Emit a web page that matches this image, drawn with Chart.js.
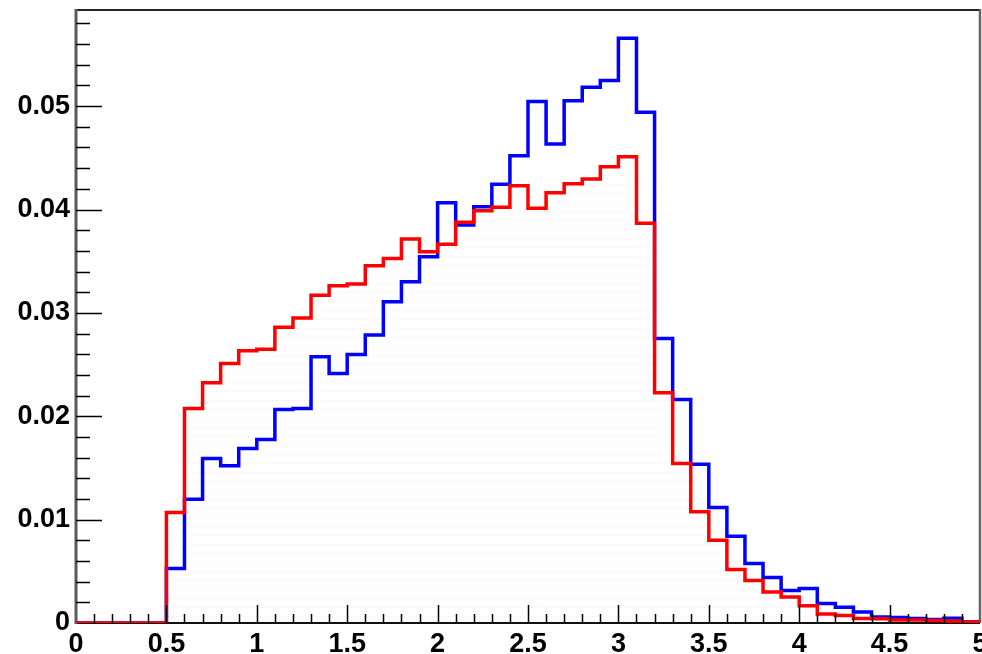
<!DOCTYPE html>
<html>
<head>
<meta charset="utf-8">
<title>Histogram comparison</title>
<script src="https://cdn.jsdelivr.net/npm/chart.js@4.4.1/dist/chart.umd.min.js"></script>
<style>
    html, body { margin: 0; padding: 0; background: #ffffff; }
    #hist-canvas { display: block; }
</style>
</head>
<body>
<canvas id="hist-canvas" width="982" height="654"></canvas>
<script>
// Bin edges (50 bins of width 0.1 between 0 and 5)
var binEdges = [
    0.0, 0.1, 0.2, 0.3, 0.4, 0.5, 0.6, 0.7, 0.8, 0.9,
    1.0, 1.1, 1.2, 1.3, 1.4, 1.5, 1.6, 1.7, 1.8, 1.9,
    2.0, 2.1, 2.2, 2.3, 2.4, 2.5, 2.6, 2.7, 2.8, 2.9,
    3.0, 3.1, 3.2, 3.3, 3.4, 3.5, 3.6, 3.7, 3.8, 3.9,
    4.0, 4.1, 4.2, 4.3, 4.4, 4.5, 4.6, 4.7, 4.8, 4.9,
    5.0
];

// Bin contents, one entry per bin
var blueValues = [
    0, 0, 0, 0, 0, 0.00527, 0.01198, 0.01591, 0.01520, 0.01688,
    0.01775, 0.02066, 0.02075, 0.02575, 0.02414, 0.02598, 0.02785, 0.03107, 0.03301, 0.03543,
    0.04066, 0.03850, 0.04027, 0.04244, 0.04521, 0.05044, 0.04634, 0.05053, 0.05183, 0.05247,
    0.05657, 0.04941, 0.02753, 0.02163, 0.01536, 0.01117, 0.00839, 0.00575, 0.00440, 0.00314,
    0.00333, 0.00188, 0.00152, 0.00106, 0.00058, 0.00052, 0.00043, 0.00033, 0.00045, 0.00010
];

var redValues = [
    0, 0, 0, 0, 0, 0.01069, 0.02075, 0.02323, 0.02511, 0.02633,
    0.02647, 0.02860, 0.02950, 0.03171, 0.03262, 0.03279, 0.03456, 0.03527, 0.03715, 0.03592,
    0.03663, 0.03876, 0.03988, 0.04021, 0.04230, 0.04011, 0.04163, 0.04250, 0.04295, 0.04414,
    0.04511, 0.03866, 0.02227, 0.01543, 0.01075, 0.00800, 0.00517, 0.00410, 0.00300, 0.00252,
    0.00168, 0.00086, 0.00072, 0.00043, 0.00040, 0.00030, 0.00030, 0.00025, 0.00020, 0.00010
];

var xTickValues = [0, 0.5, 1, 1.5, 2, 2.5, 3, 3.5, 4, 4.5, 5];
var yTickValues = [0, 0.01, 0.02, 0.03, 0.04, 0.05];

var X_MIN = 0;
var X_MAX = 5;
var Y_MAX = 0.0593;
var LABEL_FONT = { family: '"Liberation Sans", Arial, sans-serif', size: 27, weight: 'bold' };

/**
 * Turn bin contents into step points (one per low edge, plus the last edge)
 */
function toStepPoints(values) {
    var pts = [];
    for (var i = 0; i < values.length; i++) {
        pts.push({ x: binEdges[i], y: values[i] });
    }
    pts.push({ x: binEdges[values.length], y: values[values.length - 1] });
    return pts;
}

/**
 * Faint dotted fill used under the red histogram
 */
function makeDotPattern(ctx) {
    var c = document.createElement('canvas');
    c.width = 4;
    c.height = 9;
    var g = c.getContext('2d');
    g.fillStyle = 'rgba(225, 170, 195, 0.3)';
    g.fillRect(0, 4, 1, 1);
    return ctx.createPattern(c, 'repeat');
}

/**
 * Frame and inward-pointing tick marks
 */
var frameTicks = {
    id: 'frameTicks',
    beforeDatasetsDraw: function(chart) {
        var a = chart.chartArea;
        var ctx = chart.ctx;
        ctx.save();
        ctx.lineCap = 'butt';
        // top
        ctx.strokeStyle = '#222';
        ctx.lineWidth = 2;
        ctx.beginPath();
        ctx.moveTo(a.left, a.top);
        ctx.lineTo(a.right, a.top);
        ctx.stroke();
        // right
        ctx.strokeStyle = '#666';
        ctx.lineWidth = 2.5;
        ctx.beginPath();
        ctx.moveTo(a.right, a.top - 1);
        ctx.lineTo(a.right, a.bottom);
        ctx.stroke();
        // bottom
        ctx.strokeStyle = '#111';
        ctx.lineWidth = 2;
        ctx.beginPath();
        ctx.moveTo(a.left, a.bottom);
        ctx.lineTo(a.right, a.bottom);
        ctx.stroke();
        // left
        ctx.strokeStyle = '#5a5a5a';
        ctx.lineWidth = 3;
        ctx.beginPath();
        ctx.moveTo(a.left, a.top - 1);
        ctx.lineTo(a.left, a.bottom + 1);
        ctx.stroke();
        ctx.restore();
    },
    afterDatasetsDraw: function(chart) {
        var a = chart.chartArea;
        var ctx = chart.ctx;
        var xs = chart.scales.x;
        var ys = chart.scales.y;
        var k, v, p;
        ctx.save();
        ctx.strokeStyle = '#000';
        ctx.lineWidth = 1.5;
        ctx.beginPath();
        // y ticks every 0.002, major every 0.01
        for (k = 1; k * 0.002 <= Y_MAX + 1e-9; k++) {
            v = k * 0.002;
            p = Math.round(ys.getPixelForValue(v)) + 0.5;
            ctx.moveTo(a.left, p);
            ctx.lineTo(a.left + (k % 5 === 0 ? 26 : 14), p);
        }
        // x ticks every 0.1, major every 0.5
        for (k = 1; k < 50; k++) {
            v = k * 0.1;
            p = Math.round(xs.getPixelForValue(v)) + 0.5;
            ctx.moveTo(p, a.bottom);
            ctx.lineTo(p, a.bottom - (k % 5 === 0 ? 18 : 9));
        }
        ctx.stroke();
        ctx.restore();
    }
};

(function() {
    'use strict';

    var canvas = document.getElementById('hist-canvas');
    var ctx = canvas.getContext('2d');

    new Chart(ctx, {
        type: 'line',
        data: {
            datasets: [
                {
                    label: 'red',
                    data: toStepPoints(redValues),
                    stepped: true,
                    borderColor: '#ff0000',
                    borderWidth: 3.5,
                    borderJoinStyle: 'miter',
                    borderCapStyle: 'butt',
                    pointRadius: 0,
                    fill: 'origin',
                    backgroundColor: makeDotPattern(ctx),
                    order: 0
                },
                {
                    label: 'blue',
                    data: toStepPoints(blueValues),
                    stepped: true,
                    borderColor: '#0000ff',
                    borderWidth: 3.5,
                    borderJoinStyle: 'miter',
                    borderCapStyle: 'butt',
                    pointRadius: 0,
                    fill: false,
                    order: 1
                }
            ]
        },
        options: {
            responsive: false,
            animation: false,
            devicePixelRatio: 1,
            events: [],
            layout: {
                padding: { top: 10, right: 2, left: 0, bottom: 0 }
            },
            plugins: {
                legend: { display: false },
                tooltip: { enabled: false },
                filler: { drawTime: 'beforeDatasetsDraw' }
            },
            scales: {
                x: {
                    type: 'linear',
                    min: X_MIN,
                    max: X_MAX,
                    grid: { display: false, drawTicks: false },
                    border: { display: false },
                    afterBuildTicks: function(scale) {
                        scale.ticks = xTickValues.map(function(v) { return { value: v }; });
                    },
                    afterFit: function(scale) {
                        // keep the frame fixed; end labels may run past it
                        scale.height = 31;
                        scale.paddingLeft = 0;
                        scale.paddingRight = 0;
                    },
                    ticks: {
                        autoSkip: false,
                        maxRotation: 0,
                        padding: 5,
                        color: '#000',
                        font: LABEL_FONT,
                        callback: function(value) {
                            return String(value);
                        }
                    }
                },
                y: {
                    type: 'linear',
                    min: 0,
                    max: Y_MAX,
                    grid: { display: false, drawTicks: false },
                    border: { display: false },
                    afterBuildTicks: function(scale) {
                        scale.ticks = yTickValues.map(function(v) { return { value: v }; });
                    },
                    afterFit: function(scale) {
                        scale.width = 76;
                        scale.paddingTop = 0;
                        scale.paddingBottom = 0;
                    },
                    ticks: {
                        padding: 6,
                        color: '#000',
                        font: LABEL_FONT,
                        callback: function(value) {
                            return value === 0 ? '0' : value.toFixed(2);
                        }
                    }
                }
            }
        },
        plugins: [frameTicks]
    });
})();
</script>
</body>
</html>
